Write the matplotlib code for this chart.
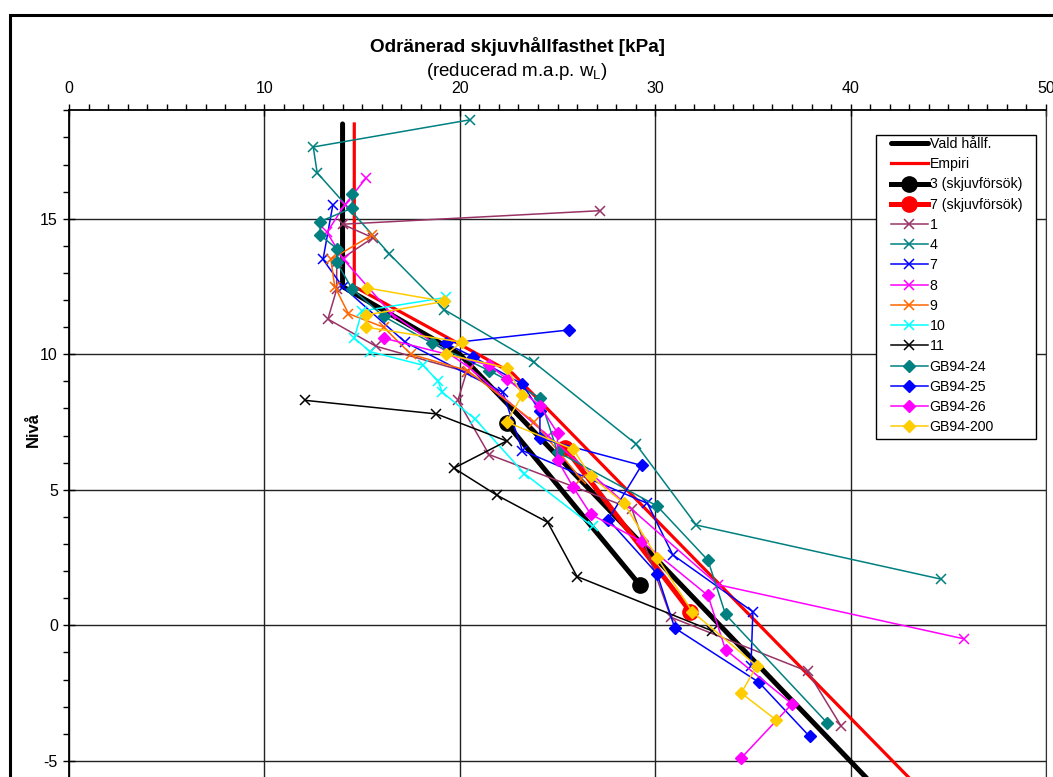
import numpy as np
import matplotlib
matplotlib.use("Agg")
from matplotlib import pyplot as plt
from matplotlib.ticker import MultipleLocator
from matplotlib.patches import Rectangle

plt.rcParams['font.family'] = ['Liberation Sans', 'DejaVu Sans']
plt.rcParams['mathtext.fontset'] = 'custom'
plt.rcParams['mathtext.rm'] = 'Liberation Sans'
plt.rcParams['axes.unicode_minus'] = False

# --- data (x = skjuvhållfasthet kPa, y = nivå) ---
vald_x = [14.0, 14.0, 20.0, 41.3]
vald_y = [18.5, 12.5, 10.0, -6.0]

empiri_x = [14.6, 14.6, 22.7, 43.5]
empiri_y = [18.5, 12.5, 9.3, -6.0]

sk3_x = [22.4, 29.2]
sk3_y = [7.45, 1.5]

sk7_x = [25.4, 31.8]
sk7_y = [6.53, 0.5]

s1_x = [27.2, 14.0, 15.55, 13.7, 13.7, 13.25, 15.7, 20.35, 19.9, 21.5, 28.8, 30.8, 37.8, 39.5]
s1_y = [15.3, 14.8, 14.3, 13.4, 12.4, 11.3, 10.3, 9.35, 8.3, 6.3, 4.3, 0.3, -1.7, -3.7]

s4_x = [20.5, 12.5, 12.7, 16.4, 19.2, 23.8, 29.0, 32.1, 44.65]
s4_y = [18.65, 17.65, 16.7, 13.7, 11.65, 9.7, 6.7, 3.7, 1.7]

s7_x = [13.5, 13.0, 14.0, 17.2, 22.2, 23.2, 29.6, 30.9, 35.0, 34.9]
s7_y = [15.5, 13.5, 12.5, 10.45, 8.6, 6.45, 4.5, 2.6, 0.5, -1.5]

s8_x = [15.2, 14.1, 13.2, 14.05, 16.5, 20.5, 24.5, 33.2, 45.8]
s8_y = [16.5, 15.5, 14.5, 13.5, 11.5, 9.5, 7.0, 1.5, -0.5]

s9_x = [15.5, 13.4, 13.6, 14.3, 16.1, 17.5, 20.4, 23.8, 26.2]
s9_y = [14.4, 13.5, 12.5, 11.5, 11.0, 10.0, 9.4, 7.5, 5.4]

s10_x = [19.3, 15.0, 14.6, 15.4, 18.1, 18.9, 19.1, 20.8, 23.3, 26.8]
s10_y = [12.1, 11.6, 10.6, 10.1, 9.6, 9.0, 8.6, 7.6, 5.6, 3.65]

s11_x = [12.1, 18.8, 22.4, 19.7, 21.9, 24.5, 26.0, 32.9]
s11_y = [8.3, 7.8, 6.8, 5.8, 4.8, 3.8, 1.8, -0.2]

gb24_x = [14.5, 14.5, 12.85, 12.85, 13.7, 13.7, 14.5, 16.1, 18.6, 21.5, 24.1, 25.0, 30.1, 32.7, 33.6, 38.8]
gb24_y = [15.9, 15.4, 14.9, 14.4, 13.9, 13.4, 12.4, 11.4, 10.4, 9.4, 8.4, 6.4, 4.4, 2.4, 0.4, -3.6]

gb25_x = [25.6, 19.3, 20.7, 23.2, 24.1, 24.1, 29.3, 27.6, 30.1, 31.0, 35.3, 37.9]
gb25_y = [10.9, 10.4, 9.9, 8.9, 7.9, 6.9, 5.9, 3.9, 1.9, -0.1, -2.1, -4.1]

gb26_x = [16.1, 21.5, 22.4, 24.1, 25.0, 25.0, 25.8, 26.7, 29.3, 32.7, 33.6, 37.0, 34.4]
gb26_y = [10.6, 9.6, 9.1, 8.1, 7.1, 6.1, 5.1, 4.1, 3.1, 1.1, -0.9, -2.9, -4.9]

gb200_x = [15.25, 19.2, 15.2, 15.2, 20.1, 19.3, 22.4, 23.2, 22.4, 25.8, 26.7, 28.4, 30.1, 31.9, 35.2, 34.4, 36.2]
gb200_y = [12.45, 11.95, 11.45, 11.0, 10.45, 10.0, 9.5, 8.5, 7.5, 6.5, 5.5, 4.5, 2.5, 0.5, -1.5, -2.5, -3.5]

W, H = 1053, 777
fig = plt.figure(figsize=(W / 100, H / 100), dpi=100)

# outer chart frame
fig.patches.append(Rectangle((9.5 / W, -0.1), 1.2, 1 - 14.5 / H + 0.1, transform=fig.transFigure,
                             fill=False, edgecolor='black', linewidth=2.2))

ax = fig.add_axes([69 / W, (777 - 787.9) / H, (1046 - 69) / W, (787.9 - 110.4) / H])
ax.set_xlim(0, 50)
ax.set_ylim(-6, 19)

ax.plot(vald_x, vald_y, color='black', lw=3.6, solid_capstyle='round', label='Vald hållf.')
ax.plot(empiri_x, empiri_y, color='red', lw=2.3, label='Empiri')
ax.plot(sk3_x, sk3_y, color='black', lw=3.6, marker='o', ms=11, label='3 (skjuvförsök)')
ax.plot(sk7_x, sk7_y, color='red', lw=3.6, marker='o', ms=11, label='7 (skjuvförsök)')

xs = dict(marker='x', ms=7.5, mew=1.1, lw=1.1)
ax.plot(s1_x, s1_y, color='#993366', label='1', **xs)
ax.plot(s4_x, s4_y, color='#008080', label='4', **xs)
ax.plot(s7_x, s7_y, color='#0000FF', label='7', **xs)
ax.plot(s8_x, s8_y, color='#FF00FF', label='8', **xs)
ax.plot(s9_x, s9_y, color='#FF6600', label='9', **xs)
ax.plot(s10_x, s10_y, color='#00FFFF', label='10', **xs)
ax.plot(s11_x, s11_y, color='black', label='11', **xs)

ds = dict(marker='D', ms=6.5, lw=1.1)
ax.plot(gb24_x, gb24_y, color='#008080', label='GB94-24', **ds)
ax.plot(gb25_x, gb25_y, color='#0000FF', label='GB94-25', **ds)
ax.plot(gb26_x, gb26_y, color='#FF00FF', label='GB94-26', **ds)
ax.plot(gb200_x, gb200_y, color='#FFCC00', label='GB94-200', **ds)

# axes styling
ax.xaxis.tick_top()
ax.xaxis.set_major_locator(MultipleLocator(10))
ax.xaxis.set_minor_locator(MultipleLocator(1))
ax.yaxis.set_major_locator(MultipleLocator(5))
ax.yaxis.set_minor_locator(MultipleLocator(1))
ax.tick_params(axis='x', which='major', direction='inout', length=9, width=1, pad=6, labelsize=11.5)
ax.tick_params(axis='x', which='minor', direction='out', length=4, width=1)
ax.tick_params(axis='y', which='major', direction='inout', length=8, width=1, pad=4, labelsize=11.5)
ax.tick_params(axis='y', which='minor', direction='out', length=4, width=1)
ax.grid(True, which='major', color='#222222', lw=1)
ax.set_axisbelow(True)
for side in ['left', 'top']:
    ax.spines[side].set_linewidth(1.3)
ax.spines['right'].set_color('#333333')
ax.spines['bottom'].set_visible(False)

ax.set_ylabel('Nivå', fontsize=12, fontweight='bold')
ax.yaxis.set_label_coords(-28 / (1046 - 69), (787.9 - 430) / (787.9 - 110.4))

fig.text(517 / W, 1 - 47 / H, 'Odränerad skjuvhållfasthet [kPa]', ha='center', va='center',
         fontsize=13.6, fontweight='bold')
fig.text(517 / W, 1 - 72 / H, '(reducerad m.a.p. w$_{\\mathrm{L}}$)', ha='center', va='center',
         fontsize=13.5)

# legend box drawn separately so the inner spacing matches
box = Rectangle((876 / W, 1 - 439 / H), 160 / W, 304 / H, transform=fig.transFigure,
                facecolor='white', edgecolor='black', linewidth=1, zorder=10)
ax.add_patch(box)
box.set_clip_on(False)
leg = ax.legend(loc='upper left', bbox_to_anchor=(891 / W, 1 - 137 / H), bbox_transform=fig.transFigure,
                borderaxespad=0, fontsize=10.2, frameon=False, handlelength=2.6, handletextpad=0.12,
                labelspacing=0.44, borderpad=0)
leg.set_zorder(20)

fig.savefig('out.png', dpi=100)
